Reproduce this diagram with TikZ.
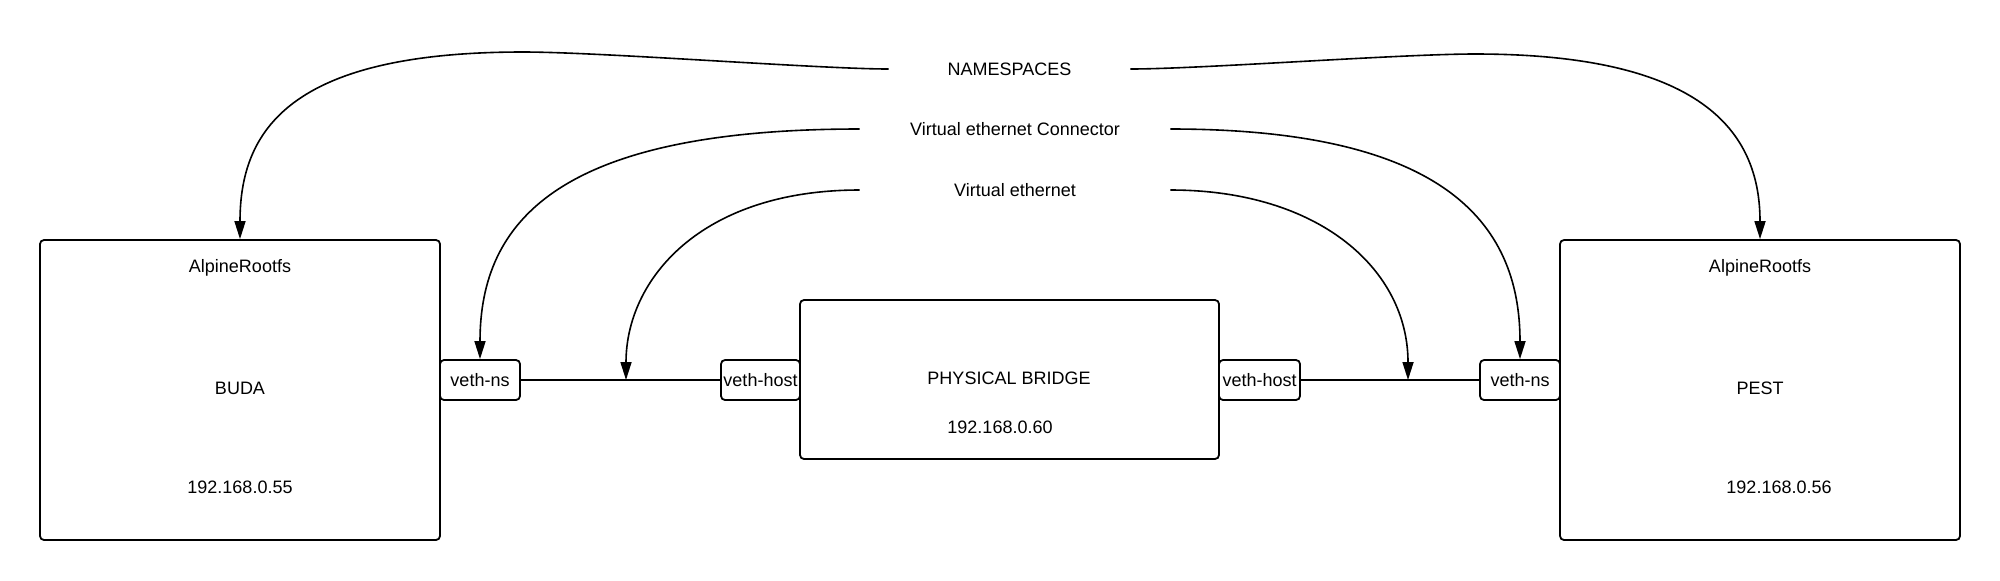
\documentclass[tikz,border=0pt]{standalone}
\usepackage{fontspec}
\setmainfont{Liberation Sans}
\usetikzlibrary{arrows.meta}
\tikzset{
  box/.style={draw, line width=0.9pt, rounded corners=2pt},
  port/.style={draw, line width=0.9pt, rounded corners=2pt, minimum height=20pt, inner sep=1pt},
  lbl/.style={inner sep=0pt},
  con/.style={line width=0.8pt},
  arr/.style={line width=0.8pt, -{Triangle[length=9pt,width=5.5pt]}}
}
\begin{document}
\begin{tikzpicture}[x=0.5pt,y=-0.5pt,font=\fontsize{9}{11}\selectfont]
        \useasboundingbox (0,0) rectangle (2000,580);
        % containers and bridge
        \node[box, minimum width=200pt, minimum height=150pt] (buda) at (240,390) {};
        \node[box, minimum width=200pt, minimum height=150pt] (pest) at (1760,390) {};
        \node[box, minimum width=209.5pt, minimum height=79.5pt] (bridge) at (1009.5,379.5) {};
        \node (budaroot) at (240,268) {AlpineRootfs};
        \node (budaname) at (240,388) {BUDA};
        \node (budaip) at (240,487) {192.168.0.55};
        \node (pestroot) at (1760,268) {AlpineRootfs};
        \node (pestname) at (1760,388) {PEST};
        \node (pestip) at (1779,487) {192.168.0.56};
        \node (bridgename) at (1009,378) {PHYSICAL BRIDGE};
        \node (bridgeip) at (1000,427) {192.168.0.60};
        % veth pairs
        \node[port, minimum width=40pt] (lns) at (480,380) {veth-ns};
        \node[port, minimum width=39.5pt] (lhost) at (760.5,380) {veth-host};
        \node[port, minimum width=40.5pt] (rhost) at (1259.5,380) {veth-host};
        \node[port, minimum width=40pt] (rns) at (1520,380) {veth-ns};
        \draw[con] (lns.east) -- (lhost.west);
        \draw[con] (rhost.east) -- (rns.west);
        \coordinate (lmid) at (626,380);
        \coordinate (rmid) at (1408,380);
        % legend
        \node[lbl, minimum width=120.5pt] (ns) at (1009.5,69) {NAMESPACES};
        \node[lbl, minimum width=155pt] (vethcon) at (1015,129) {Virtual ethernet Connector};
        \node[lbl, minimum width=155pt] (veth) at (1015,190) {Virtual ethernet};
        \draw[arr] (ns.west) .. controls (820,69) and (600,52) .. (523,52)
                   .. controls (290,52) and (240,130) .. (buda.north);
        \draw[arr] (ns.east) .. controls (1200,69) and (1400,54) .. (1475,54)
                   .. controls (1700,54) and (1760,130) .. (pest.north);
        \draw[arr] (vethcon.west) .. controls (560,129) and (480,220) .. (lns.north);
        \draw[arr] (vethcon.east) .. controls (1440,129) and (1520,220) .. (rns.north);
        \draw[arr] (veth.west) .. controls (700,190) and (626,280) .. (lmid);
        \draw[arr] (veth.east) .. controls (1320,190) and (1408,270) .. (rmid);
\end{tikzpicture}
\end{document}
